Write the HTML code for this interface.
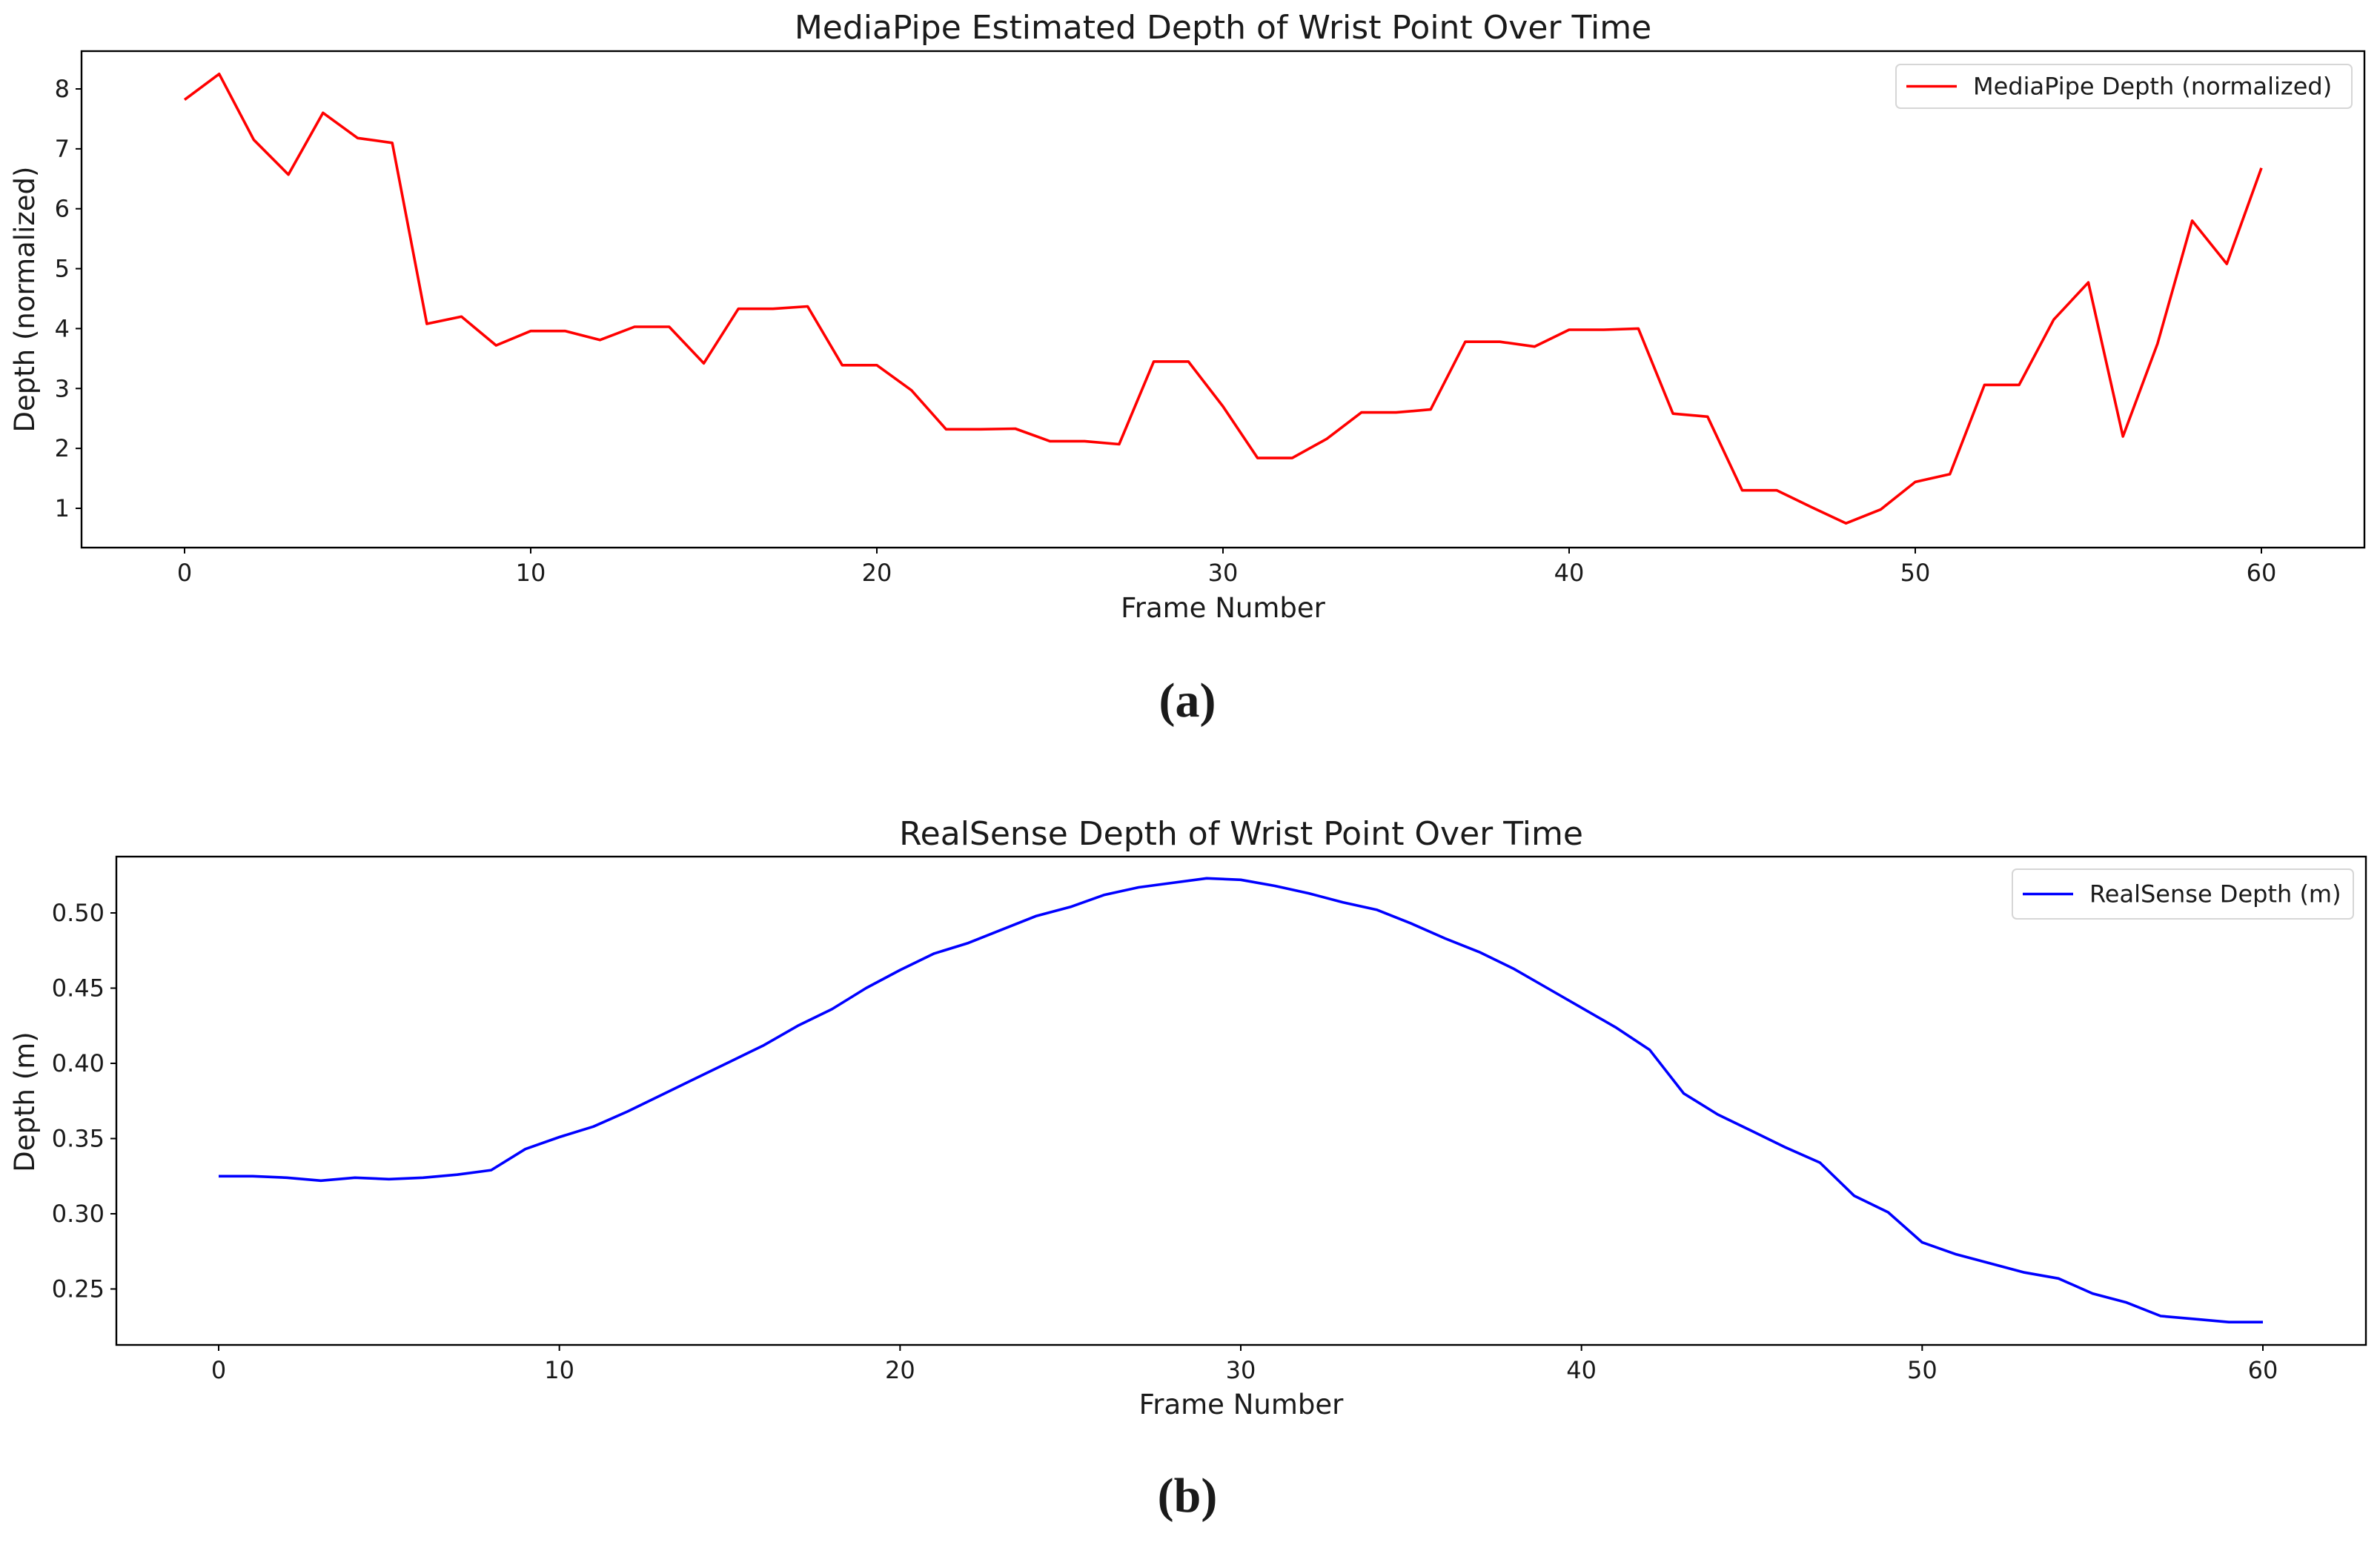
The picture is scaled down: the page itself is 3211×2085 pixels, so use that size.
<!DOCTYPE html>
<html><head><meta charset="utf-8"><style>
body{margin:0;background:#fff;}
svg text{font-family:"DejaVu Sans","Liberation Sans",sans-serif;fill:#1a1a1a;}
</style></head><body>
<svg id="fig" width="3211" height="2080" viewBox="0 0 3211 2080" xmlns="http://www.w3.org/2000/svg">
<rect width="3211" height="2080" fill="#fff"/>
</svg>
<script>
const frames = Array.from({length:61},(_,i)=>i);
const mediapipeDepth = [7.82,8.25,7.15,6.57,7.6,7.18,7.1,4.08,4.2,3.72,3.96,3.96,3.81,4.03,4.03,3.42,4.33,4.33,4.37,3.39,3.39,2.97,2.32,2.32,2.33,2.12,2.12,2.07,3.45,3.45,2.7,1.84,1.84,2.16,2.6,2.6,2.65,3.78,3.78,3.7,3.98,3.98,4.0,2.58,2.53,1.3,1.3,1.02,0.75,0.98,1.44,1.57,3.06,3.06,4.15,4.77,2.2,3.75,5.8,5.08,6.68];
const realsenseDepth = [0.325,0.325,0.324,0.322,0.324,0.323,0.324,0.326,0.329,0.343,0.351,0.358,0.368,0.379,0.390,0.401,0.412,0.425,0.436,0.450,0.462,0.473,0.480,0.489,0.498,0.504,0.512,0.517,0.520,0.523,0.522,0.518,0.513,0.507,0.502,0.493,0.483,0.474,0.463,0.450,0.437,0.424,0.409,0.380,0.366,0.355,0.344,0.334,0.312,0.301,0.281,0.273,0.267,0.261,0.257,0.247,0.241,0.232,0.230,0.228,0.228];
const xTicks = [0,10,20,30,40,50,60];
const yTicksTop = [1,2,3,4,5,6,7,8];
const yTicksBottom = [0.25,0.30,0.35,0.40,0.45,0.50];
const yTickLabelsBottom = ["0.25","0.30","0.35","0.40","0.45","0.50"];

const NS="http://www.w3.org/2000/svg";
const svg=document.getElementById('fig');
function mk(tag,attrs,parent){const e=document.createElementNS(NS,tag);for(const k in attrs)e.setAttribute(k,attrs[k]);(parent||svg).appendChild(e);return e;}

function drawChart(cfg){
  const g=mk('g',{});
  
  
  const xs=v=>cfg.x0px+(v-0)*(cfg.x60px-cfg.x0px)/60;
  const ys=v=>cfg.yApx+(v-cfg.yA)*(cfg.yBpx-cfg.yApx)/(cfg.yB-cfg.yA);
  const t=mk('text',{x:(cfg.L+cfg.R)/2,y:cfg.titleY,'font-size':44,'text-anchor':'middle'},g);
  t.textContent=cfg.title;
  
  
  const pts=frames.map((f,i)=>xs(f).toFixed(1)+','+ys(cfg.data[i]).toFixed(1)).join(' ');
  const pl=mk('polyline',{points:pts,fill:'none',stroke:cfg.color,'stroke-width':3.6,'stroke-linejoin':'round'},g);
  
  
  const fr=mk('rect',{x:cfg.L,y:cfg.T,width:cfg.R-cfg.L,height:cfg.B-cfg.T,fill:'none',stroke:'#000','stroke-width':2.4},g);
  
  
  xTicks.forEach(v=>{
    const x=xs(v);
    const tk=mk('line',{x1:x,x2:x,y1:cfg.B,y2:cfg.B+8,stroke:'#000','stroke-width':2},g);
    
    
    const tl=mk('text',{x:x,y:cfg.B+45,'font-size':32,'text-anchor':'middle'},g);
    tl.textContent=String(v);
    
    
  });
  cfg.yTicks.forEach((v,i)=>{
    const y=ys(v);
    const tk=mk('line',{x1:cfg.L-8,x2:cfg.L,y1:y,y2:y,stroke:'#000','stroke-width':2},g);
    
    
    const tl=mk('text',{x:cfg.L-16,y:y+11,'font-size':32,'text-anchor':'end'},g);
    tl.textContent=cfg.yLabels?cfg.yLabels[i]:String(v);
    
    
  });
  const xl=mk('text',{x:(cfg.L+cfg.R)/2,y:cfg.xLabelY,'font-size':37,'text-anchor':'middle'},g);
  xl.textContent='Frame Number';
  
  
  const yl=mk('text',{x:0,y:0,'font-size':37,'text-anchor':'middle',transform:`translate(${cfg.yLabelX},${cfg.yLabelCY}) rotate(-90)`},g);
  yl.textContent=cfg.yTitle;
  
  
  const lg=mk('g',{},g);
  
  
  mk('rect',{x:cfg.lg[0],y:cfg.lg[1],width:cfg.lg[2]-cfg.lg[0],height:cfg.lg[3]-cfg.lg[1],rx:6,fill:'#fff','fill-opacity':0.8,stroke:'#d6d6d6','stroke-width':2},lg);
  const my=(cfg.lg[1]+cfg.lg[3])/2;
  const ll=mk('line',{x1:cfg.lg[0]+14,x2:cfg.lg[0]+82,y1:my,y2:my,stroke:cfg.color,'stroke-width':3.6},lg);
  
  
  const lt=mk('text',{x:cfg.lg[0]+104,y:my+11,'font-size':32},lg);
  lt.textContent=cfg.legend;
  
  
  const cp=mk('text',{x:1602,y:cfg.capY,'font-size':66,'text-anchor':'middle','font-weight':'bold',style:'font-family:"Liberation Serif",serif'},g);
  cp.textContent=cfg.caption;
  
  
}

drawChart({name:'mediapipe-chart',title:'MediaPipe Estimated Depth of Wrist Point Over Time',color:'#ff0000',data:mediapipeDepth,
  L:110,R:3190,T:69,B:739,x0px:249,x60px:3051,yA:8,yApx:120,yB:1,yBpx:686,yTicks:yTicksTop,
  titleY:52,xLabelY:833,yTitle:'Depth (normalized)',yLabelX:46,yLabelCY:404,
  lg:[2558,87,3173,146],legend:'MediaPipe Depth (normalized)',caption:'(a)',capY:967});
drawChart({name:'realsense-chart',title:'RealSense Depth of Wrist Point Over Time',color:'#0000ff',data:realsenseDepth,
  L:157,R:3192,T:1156,B:1815,x0px:295,x60px:3053,yA:0.50,yApx:1232,yB:0.25,yBpx:1739.5,yTicks:yTicksBottom,yLabels:yTickLabelsBottom,
  titleY:1140,xLabelY:1908,yTitle:'Depth (m)',yLabelX:46,yLabelCY:1487,
  lg:[2715,1173,3175,1240],legend:'RealSense Depth (m)',caption:'(b)',capY:2040});
</script>
</body></html>
